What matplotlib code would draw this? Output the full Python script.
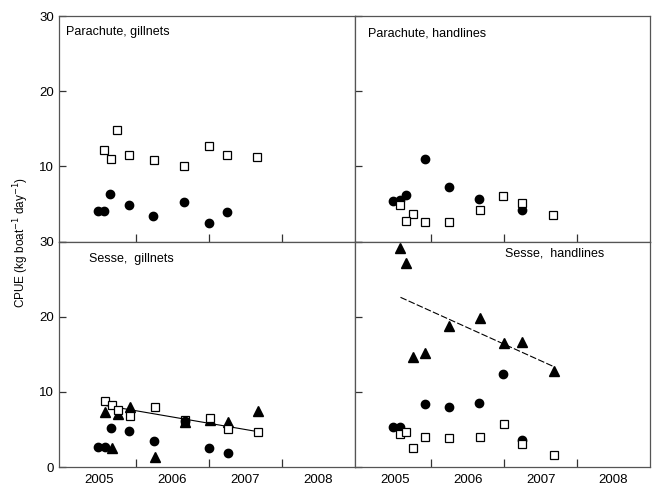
import numpy as np
import matplotlib
matplotlib.use("Agg")
import matplotlib.pyplot as plt

plt.rcParams['font.family'] = ['Liberation Sans', 'DejaVu Sans']

# Parachute, gillnets
pg_sq_x = [2005.07, 2005.24, 2005.16, 2005.41, 2005.75, 2006.16, 2006.50, 2006.75, 2007.17]
pg_sq_y = [12.2, 14.9, 11.0, 11.55, 10.9, 10.1, 12.65, 11.55, 11.3]
pg_ci_x = [2004.98, 2005.07, 2005.15, 2005.41, 2005.74, 2006.16, 2006.50, 2006.75]
pg_ci_y = [4.07, 4.07, 6.3, 4.87, 3.37, 5.3, 2.48, 3.9]

# Parachute, handlines
ph_ci_x = [2004.98, 2005.08, 2005.16, 2005.41, 2005.74, 2006.16, 2006.74]
ph_ci_y = [5.45, 5.58, 6.15, 10.98, 7.2, 5.62, 4.2]
ph_sq_x = [2005.08, 2005.25, 2005.16, 2005.41, 2005.74, 2006.17, 2006.49, 2006.75, 2007.17]
ph_sq_y = [4.82, 3.67, 2.79, 2.66, 2.66, 4.2, 6.07, 5.18, 3.54]

# Sesse, gillnets
sg_sq_x = [2005.08, 2005.17, 2005.26, 2005.42, 2005.76, 2006.17, 2006.52, 2006.77, 2007.18]
sg_sq_y = [8.72, 8.19, 7.6, 6.8, 8.0, 6.2, 6.46, 5.09, 4.69]
sg_tr_x = [2005.08, 2005.17, 2005.26, 2005.42, 2005.76, 2006.17, 2006.52, 2006.77, 2007.18]
sg_tr_y = [7.35, 2.52, 7.08, 8.05, 1.33, 5.98, 6.28, 5.98, 7.44]
sg_ci_x = [2004.99, 2005.08, 2005.16, 2005.41, 2005.75, 2006.17, 2006.51, 2006.76]
sg_ci_y = [2.7, 2.7, 5.26, 4.82, 3.45, 6.1, 2.6, 1.86]
sg_fit_x = [2005.08, 2007.18]
sg_fit_y = [8.2, 4.7]

# Sesse, handlines
sh_tr_x = [2005.08, 2005.16, 2005.25, 2005.42, 2005.74, 2006.17, 2006.50, 2006.75, 2007.18]
sh_tr_y = [29.08, 27.1, 14.65, 15.14, 18.8, 19.83, 16.55, 16.64, 12.83]
sh_ci_x = [2004.98, 2005.07, 2005.41, 2005.74, 2006.16, 2006.49, 2006.75]
sh_ci_y = [5.39, 5.39, 8.37, 8.05, 8.54, 12.39, 3.63]
sh_sq_x = [2005.08, 2005.16, 2005.25, 2005.42, 2005.75, 2006.17, 2006.50, 2006.75, 2007.18]
sh_sq_y = [4.46, 4.65, 2.56, 4.06, 3.93, 4.02, 5.71, 3.09, 1.54]
sh_fit_x = [2005.08, 2007.18]
sh_fit_y = [22.58, 13.36]

years = [2005, 2006, 2007, 2008]
year_bounds = [2005.5, 2006.5, 2007.5]


def circles(ax, x, y, z=3):
    ax.plot(x, y, 'o', color='black', markersize=6, linestyle='none', zorder=z)


def squares(ax, x, y, z=4):
    ax.plot(x, y, 's', markerfacecolor='white', markeredgecolor='black',
            markeredgewidth=0.9, markersize=6, linestyle='none', zorder=z)


def triangles(ax, x, y, z=3):
    ax.plot(x, y, '^', color='black', markersize=7, linestyle='none', zorder=z)


fig, axes = plt.subplots(2, 2, figsize=(6.52, 4.86), dpi=100)
fig.subplots_adjust(left=0.0905, right=0.997, top=0.967, bottom=0.039, hspace=0, wspace=0)
(ax1, ax2), (ax3, ax4) = axes

squares(ax1, pg_sq_x, pg_sq_y)
circles(ax1, pg_ci_x, pg_ci_y)

circles(ax2, ph_ci_x, ph_ci_y)
squares(ax2, ph_sq_x, ph_sq_y)

ax3.plot(sg_fit_x, sg_fit_y, color='black', linewidth=0.8, zorder=2)
triangles(ax3, sg_tr_x, sg_tr_y, z=3)
squares(ax3, sg_sq_x, sg_sq_y, z=4)
circles(ax3, sg_ci_x, sg_ci_y, z=5)

ax4.plot(sh_fit_x, sh_fit_y, color='black', linewidth=0.8, linestyle=(0, (6, 2)), zorder=2)
triangles(ax4, sh_tr_x, sh_tr_y)
circles(ax4, sh_ci_x, sh_ci_y)
squares(ax4, sh_sq_x, sh_sq_y)

ax1.text(0.024, 0.93, "Parachute, gillnets", transform=ax1.transAxes, fontsize=9, va='center')
ax2.text(0.045, 0.923, "Parachute, handlines", transform=ax2.transAxes, fontsize=9, va='center')
ax3.text(0.101, 0.923, "Sesse,  gillnets", transform=ax3.transAxes, fontsize=9, va='center')
ax4.text(0.508, 0.947, "Sesse,  handlines", transform=ax4.transAxes, fontsize=9, va='center')

for ax in axes.flat:
    ax.set_xlim(2004.45, 2008.5)
    ax.set_ylim(0, 30)
    ax.set_xticks(years)
    ax.set_xticks(year_bounds, minor=True)
    ax.set_yticks([0, 10, 20, 30])
    ax.tick_params(axis='x', which='major', length=0, labelsize=9.5, pad=5)
    ax.tick_params(axis='x', which='minor', direction='in', length=6, width=0.9, color='#333333')
    ax.tick_params(axis='y', direction='in', length=5, width=0.9, color='#333333', labelsize=9.5)
    for s in ax.spines.values():
        s.set_color('#555555')
        s.set_linewidth(0.9)

ax1.tick_params(labelbottom=False)
ax2.tick_params(labelbottom=False)
ax1.set_yticklabels(['', '10', '20', '30'])
ax2.tick_params(labelleft=False)
ax4.tick_params(labelleft=False)

fig.text(0.032, 0.5, "CPUE (kg boat$^{-1}$ day$^{-1}$)", rotation=90, va='center', ha='center', fontsize=8.5)

fig.savefig("out.png", dpi=100)
